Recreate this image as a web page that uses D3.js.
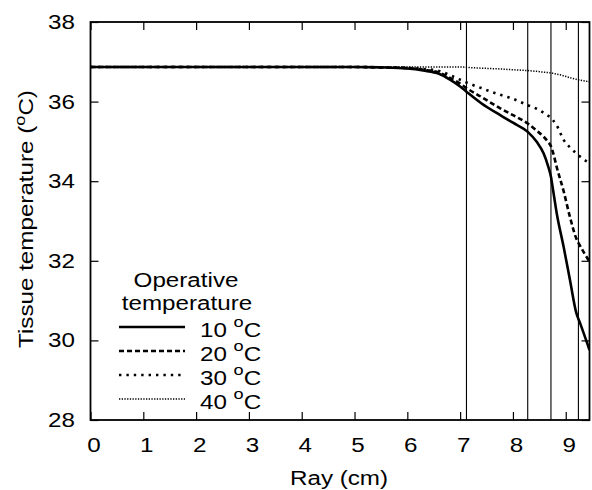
<!DOCTYPE html>
<html>
<head>
<meta charset="utf-8">
<script src="https://d3js.org/d3.v7.min.js"></script>
<style>
  body { margin: 0; background: white; }
  text { font-family: "Liberation Sans", Arial, sans-serif; fill: black; }
</style>
</head>
<body>
<script>
  // Ray positions (cm) shared by all curves
  var ray = [0, 5.0, 5.5, 6.0, 6.3, 6.6, 6.8, 7.0, 7.12, 7.4, 7.76, 8.0, 8.28, 8.45, 8.58, 8.67, 8.72, 8.76, 8.83, 8.96, 9.08, 9.20, 9.27, 9.45];

  // tissue temperature (oC) for each operative temperature
  var temp10 = [36.87, 36.87, 36.86, 36.83, 36.78, 36.70, 36.56, 36.38, 36.25, 35.96, 35.66, 35.47, 35.24, 34.99, 34.70, 34.36, 34.11, 33.78, 33.19, 32.35, 31.52, 30.69, 30.44, 29.76];
  var temp20 = [36.87, 36.87, 36.86, 36.84, 36.80, 36.73, 36.60, 36.45, 36.34, 36.12, 35.83, 35.66, 35.45, 35.27, 35.12, 34.98, 34.88, 34.72, 34.35, 33.75, 33.10, 32.56, 32.38, 31.98];
  var temp30 = [36.87, 36.87, 36.86, 36.85, 36.82, 36.77, 36.67, 36.55, 36.48, 36.34, 36.17, 36.07, 35.91, 35.82, 35.72, 35.64, 35.60, 35.53, 35.40, 35.04, 34.85, 34.70, 34.62, 34.45];
  var temp40 = [36.87, 36.87, 36.87, 36.87, 36.87, 36.87, 36.87, 36.87, 36.86, 36.84, 36.82, 36.80, 36.78, 36.76, 36.74, 36.73, 36.72, 36.71, 36.69, 36.65, 36.60, 36.56, 36.54, 36.50];

  var seriesNames = ["10", "20", "30", "40"];
  var seriesValues = [temp10, temp20, temp30, temp40];

  // layer boundaries (vertical lines)
  var boundaries = [7.12, 8.28, 8.72, 9.24];

  var xTicks = [0, 1, 2, 3, 4, 5, 6, 7, 8, 9];
  var yTicks = [28, 30, 32, 34, 36, 38];

  // line styles per series
  var styles = [
    {width: 2.6, dash: null},
    {width: 2.6, dash: "5,3"},
    {width: 2.6, dash: "2.4,5"},
    {width: 1.5, dash: "1.3,1.4"}
  ];

  var chartW = 592, chartH = 490;
  var plotL = 90.5, plotR = 589.5, plotT = 22, plotB = 420;
  var stretch = 1.21; // the original lettering is wider than Liberation Sans

  // move x/y into a transform so the text can be widened around its anchor
  function widen(sel, extra) {
    sel.each(function() {
      var t = d3.select(this);
      var tx = +t.attr("x") || 0, ty = +t.attr("y") || 0;
      t.attr("x", 0).attr("y", 0)
       .attr("transform", "translate(" + tx + "," + ty + ")" + (extra || "") + " scale(" + stretch + ",1)");
    });
  }

  var svg = d3.select("body")
    .append("svg")
    .attr("width", chartW)
    .attr("height", chartH);

  var x = d3.scaleLinear().domain([0, 9.45]).range([plotL, plotR]);
  var y = d3.scaleLinear().domain([28, 38]).range([plotB, plotT]);

  svg.append("clipPath")
    .attr("id", "plotClip")
    .append("rect")
    .attr("x", plotL)
    .attr("y", plotT)
    .attr("width", plotR - plotL)
    .attr("height", plotB - plotT);

  // axes with inward ticks
  var bottomAxis = svg.append("g")
    .attr("transform", "translate(0," + plotB + ")")
    .call(d3.axisBottom(x).tickValues(xTicks).tickSize(-8).tickSizeOuter(0).tickPadding(18).tickFormat(d3.format("d")));
  var topAxis = svg.append("g")
    .attr("transform", "translate(0," + plotT + ")")
    .call(d3.axisTop(x).tickValues(xTicks).tickSize(-8).tickSizeOuter(0).tickFormat(""));
  var leftAxis = svg.append("g")
    .attr("transform", "translate(" + plotL + ",0)")
    .call(d3.axisLeft(y).tickValues(yTicks).tickSize(-8).tickSizeOuter(0).tickPadding(15.5).tickFormat(d3.format("d")));
  var rightAxis = svg.append("g")
    .attr("transform", "translate(" + plotR + ",0)")
    .call(d3.axisRight(y).tickValues(yTicks).tickSize(-8).tickSizeOuter(0).tickFormat(""));

  [bottomAxis, topAxis, leftAxis, rightAxis].forEach(function(a) {
    a.select(".domain").remove();
    a.selectAll("line").attr("stroke", "black").attr("stroke-width", 1.2);
    a.selectAll("text")
      .style("font-family", "'Liberation Sans', Arial, sans-serif")
      .style("font-size", "20px")
      .attr("fill", "black");
  });
  bottomAxis.selectAll("text").attr("x", 3);
  widen(bottomAxis.selectAll("text"));
  widen(leftAxis.selectAll("text"));

  // vertical boundary lines
  svg.selectAll(".boundary")
    .data(boundaries)
    .enter()
  .append("line")
    .attr("class", "boundary")
    .attr("x1", d => x(d))
    .attr("x2", d => x(d))
    .attr("y1", plotT)
    .attr("y2", plotB)
    .attr("stroke", "black")
    .attr("stroke-width", 1.1);

  // curves
  var line = d3.line()
    .x(d => x(d[0]))
    .y(d => y(d[1]))
    .curve(d3.curveMonotoneX);

  svg.append("g")
    .attr("clip-path", "url(#plotClip)")
    .selectAll("path")
    .data(seriesValues)
    .enter()
  .append("path")
    .attr("d", vals => line(vals.map((v, i) => [ray[i], v])))
    .attr("fill", "none")
    .attr("stroke", "black")
    .attr("stroke-width", (d, i) => styles[i].width)
    .attr("stroke-dasharray", (d, i) => styles[i].dash);

  // frame
  svg.append("rect")
    .attr("x", plotL)
    .attr("y", plotT)
    .attr("width", plotR - plotL)
    .attr("height", plotB - plotT)
    .attr("fill", "none")
    .attr("stroke", "black")
    .attr("stroke-width", 1.8);

  // axis titles
  svg.append("text")
    .attr("x", 339)
    .attr("y", 485)
    .attr("text-anchor", "middle")
    .style("font-size", "20px")
    .text("Ray (cm)")
    .call(widen);

  var yTitle = svg.append("text")
    .attr("x", 33)
    .attr("y", 219)
    .attr("text-anchor", "middle")
    .style("font-size", "20px");
  yTitle.append("tspan").text("Tissue temperature (");
  yTitle.append("tspan").attr("dy", -8).style("font-size", "15px").text("o");
  yTitle.append("tspan").attr("dy", 8).text("C)");
  widen(yTitle, " rotate(-90)");

  // legend
  var legend = svg.append("g");
  legend.append("text")
    .attr("x", 186).attr("y", 287)
    .attr("text-anchor", "middle")
    .style("font-size", "20px")
    .text("Operative")
    .call(widen);
  legend.append("text")
    .attr("x", 187).attr("y", 310)
    .attr("text-anchor", "middle")
    .style("font-size", "20px")
    .text("temperature")
    .call(widen);

  var items = legend.selectAll(".item")
    .data(seriesNames)
    .enter()
  .append("g")
    .attr("class", "item")
    .attr("transform", (d, i) => "translate(0," + (327 + i * 24) + ")");

  items.append("line")
    .attr("x1", 119).attr("x2", 185)
    .attr("y1", 0).attr("y2", 0)
    .attr("stroke", "black")
    .attr("stroke-width", (d, i) => styles[i].width)
    .attr("stroke-dasharray", (d, i) => styles[i].dash);

  var labels = items.append("text")
    .attr("x", 200).attr("y", 10)
    .style("font-size", "20px");
  labels.append("tspan").text(d => d + " ");
  labels.append("tspan").attr("dy", -10).style("font-size", "15px").text("o");
  labels.append("tspan").attr("dy", 10).text("C");
  widen(labels);
</script>
</body>
</html>
